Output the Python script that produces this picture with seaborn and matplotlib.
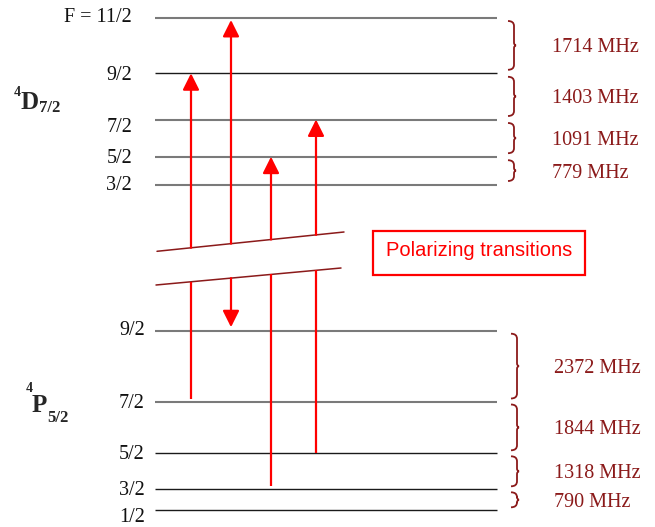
import numpy as np
import matplotlib
matplotlib.use("Agg")
import matplotlib.pyplot as plt
from matplotlib.path import Path
from matplotlib.patches import PathPatch, Rectangle
import seaborn as sns

# hyperfine levels, vertical position (pixels from top)
upper_F = ["F = 11/2", "9/2", "7/2", "5/2", "3/2"]
upper_y = [17.5, 73.3, 119.5, 156.7, 184.5]
upper_gray = [True, False, True, True, True]
upper_split = ["1714 MHz", "1403 MHz", "1091 MHz", "779 MHz"]

lower_F = ["9/2", "7/2", "5/2", "3/2", "1/2"]
lower_y = [330.7, 401.5, 453.3, 489.3, 510.3]
lower_gray = [True, True, False, False, False]
lower_split = ["2372 MHz", "1844 MHz", "1318 MHz", "790 MHz"]

# transitions: (lower level index, upper level index)
transitions = [(1, 1), (0, 0), (3, 3), (2, 2)]
trans_x = [191, 231, 271, 316]

red = "#ff0000"
dred = "#8b1a1a"
serif = "Liberation Serif"

sns.set_style("white")
plt.rcParams["font.family"] = [serif, "DejaVu Serif"]

fig = plt.figure(figsize=(6.55, 5.27), dpi=100)
ax = fig.add_axes([0, 0, 1, 1])
ax.set_xlim(0, 655)
ax.set_ylim(527, 0)
ax.axis("off")

x_lo, x_hi = 155, 497


def levels(ys, grays, names, lab_x, nudge):
    for i, (y, g, n) in enumerate(zip(ys, grays, names)):
        ax.hlines(y, x_lo, x_hi, color="#7a7a7a" if g else "#1a1a1a",
                  lw=1.5 if g else 1.0)
        ax.text(lab_x, y + 1.5 + nudge.get(i, 0), n, ha="right", va="center",
                fontsize=14.5, color="#111111")


levels(upper_y, upper_gray, upper_F, 132, {0: -2, 1: 1, 2: 6.5})
levels(lower_y, lower_gray, lower_F, 145, {4: 6, 0: -2})


def brace(x0, y0, y1, w=6):
    ym = (y0 + y1) / 2
    verts = [(x0, y0), (x0 + w, y0), (x0 + w, y0 + 5),
             (x0 + w, ym - 3),
             (x0 + w, ym), (x0 + w + 2, ym),
             (x0 + w, ym), (x0 + w, ym + 3),
             (x0 + w, y1 - 5),
             (x0 + w, y1), (x0, y1)]
    codes = [Path.MOVETO, Path.CURVE3, Path.CURVE3,
             Path.LINETO,
             Path.CURVE3, Path.CURVE3,
             Path.CURVE3, Path.CURVE3,
             Path.LINETO,
             Path.CURVE3, Path.CURVE3]
    ax.add_patch(PathPatch(Path(verts, codes), fill=False, ec=dred, lw=1.3))


def splittings(ys, labels, bx, tx, inset):
    for i, lab in enumerate(labels):
        y0, y1 = ys[i] + inset, ys[i + 1] - inset
        brace(bx, y0, y1)
        ax.text(tx, (ys[i] + ys[i + 1]) / 2 + 2.5, lab, ha="left", va="center",
                fontsize=14.5, color=dred)


splittings(upper_y, upper_split, 508, 552, 3.5)
splittings(lower_y, lower_split, 511, 554, 3.0)

# broken energy axis
brk_top = ((157, 251.3), (344, 232.0))
brk_bot = ((156, 285.0), (341, 268.0))
for (xa, ya), (xb, yb) in (brk_top, brk_bot):
    ax.plot([xa, xb], [ya, yb], color="#8b1a1a", lw=1.1)


def on_line(line, x):
    (xa, ya), (xb, yb) = line
    return ya + (x - xa) * (yb - ya) / (xb - xa)


head = dict(arrowstyle="-|>,head_length=1.0,head_width=0.5", color=red,
            lw=1.6, shrinkA=0, shrinkB=0, mutation_scale=10)

for (lo, up), x in zip(transitions, trans_x):
    y_up = upper_y[up] + (2.5 if up == 0 else 0)
    y_lo = lower_y[lo] - (3 if lo in (1, 3) else 0)
    # upper half, pointing up
    ax.annotate("", xy=(x, y_up), xytext=(x, on_line(brk_top, x)),
                arrowprops=head)
    if lo == 0:
        # lower half drawn pointing down to the lower level
        ax.annotate("", xy=(x, y_lo - 3.5), xytext=(x, on_line(brk_bot, x)),
                    arrowprops=head)
    else:
        ax.plot([x, x], [on_line(brk_bot, x), y_lo], color=red, lw=1.6,
                solid_capstyle="butt")

# state labels
ax.text(13.5, 93, "4", fontsize=10, fontweight="bold", ha="left", va="center")
ax.text(20.5, 102.5, "D", fontsize=18, fontweight="bold", ha="left", va="center")
ax.text(39.5, 108.5, "7/2", fontsize=12, fontweight="bold", ha="left", va="center")

ax.text(25.5, 388, "4", fontsize=10, fontweight="bold", ha="left", va="center")
ax.text(32, 405, "P", fontsize=18, fontweight="bold", ha="left", va="center")
ax.text(47.5, 417.5, "5/2", fontsize=12, fontweight="bold", ha="left", va="center")

# legend box
ax.add_patch(Rectangle((373, 231), 212, 44, fill=False, ec=red, lw=1.6))
ax.text(479, 250, "Polarizing transitions", ha="center", va="center",
        fontsize=14.5, color=red, family=["Liberation Sans", "DejaVu Sans"])

fig.savefig("out.png", dpi=100)
